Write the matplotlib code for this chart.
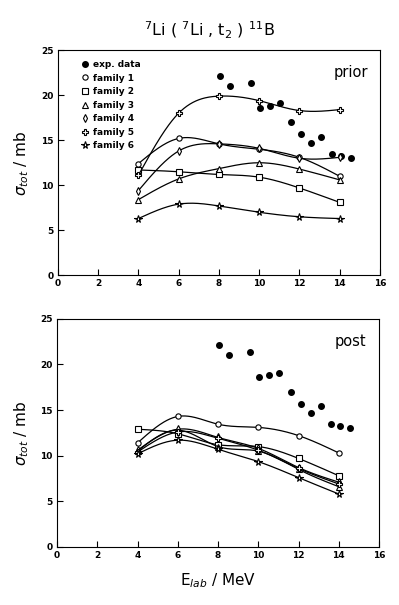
import numpy as np
import matplotlib
matplotlib.use("Agg")
import matplotlib.pyplot as plt
from matplotlib.lines import Line2D

# ---------------- data ----------------
exp_E = [8.05, 8.55, 9.6, 10.05, 10.55, 11.05, 11.6, 12.1, 12.6, 13.1, 13.6, 14.05, 14.55]
exp_sigma = [22.1, 21.0, 21.4, 18.6, 18.8, 19.1, 17.0, 15.7, 14.7, 15.4, 13.5, 13.3, 13.0]

fam_E = [4, 6, 8, 10, 12, 14]
family_labels = ["family 1", "family 2", "family 3", "family 4", "family 5", "family 6"]

prior_vals = {
    "family 1": [12.4, 15.2, 14.6, 14.0, 13.1, 11.0],
    "family 2": [11.7, 11.5, 11.2, 10.9, 9.7, 8.1],
    "family 3": [8.4, 10.7, 11.85, 12.5, 11.8, 10.6],
    "family 4": [9.4, 13.8, 14.6, 14.1, 13.0, 13.1],
    "family 5": [11.1, 18.0, 19.9, 19.4, 18.3, 18.4],
    "family 6": [6.3, 7.9, 7.7, 7.0, 6.5, 6.3],
}
post_vals = {
    "family 1": [11.4, 14.3, 13.45, 13.1, 12.2, 10.3],
    "family 2": [12.9, 12.4, 11.2, 11.0, 9.7, 7.8],
    "family 3": [10.5, 12.8, 11.0, 10.5, 8.5, 6.6],
    "family 4": [10.6, 12.9, 12.0, 10.8, 8.7, 7.1],
    "family 5": [10.4, 12.6, 11.9, 10.6, 8.6, 6.9],
    "family 6": [10.2, 11.7, 10.7, 9.35, 7.6, 5.8],
}
markers = {"family 1": "o", "family 2": "s", "family 3": "^",
           "family 4": "d", "family 5": "P", "family 6": "*"}


def natural_spline(x, y, n=200):
    x = np.asarray(x, float)
    y = np.asarray(y, float)
    m = len(x)
    h = np.diff(x)
    A = np.zeros((m, m))
    r = np.zeros(m)
    A[0, 0] = 1
    A[-1, -1] = 1
    for i in range(1, m - 1):
        A[i, i - 1] = h[i - 1]
        A[i, i] = 2 * (h[i - 1] + h[i])
        A[i, i + 1] = h[i]
        r[i] = 3 * ((y[i + 1] - y[i]) / h[i] - (y[i] - y[i - 1]) / h[i - 1])
    c = np.linalg.solve(A, r)
    xs = np.linspace(x[0], x[-1], n)
    ys = np.empty_like(xs)
    for k, xv in enumerate(xs):
        i = min(np.searchsorted(x, xv, side="right") - 1, m - 2)
        dx = xv - x[i]
        b = (y[i + 1] - y[i]) / h[i] - h[i] * (2 * c[i] + c[i + 1]) / 3
        d = (c[i + 1] - c[i]) / (3 * h[i])
        ys[k] = y[i] + b * dx + c[i] * dx ** 2 + d * dx ** 3
    return xs, ys


plt.rcParams["font.family"] = ["DejaVu Sans"]
fig = plt.figure(figsize=(3.99, 6.05), dpi=100)
ax1 = fig.add_axes([0.145, 0.545, 0.807, 0.372])
ax2 = fig.add_axes([0.143, 0.096, 0.807, 0.377])

for ax, vals, tag in [(ax1, prior_vals, "prior"), (ax2, post_vals, "post")]:
    ax.plot(exp_E, exp_sigma, "o", color="black", ms=4, ls="none")
    for lab in family_labels:
        xs, ys = natural_spline(fam_E, vals[lab])
        ax.plot(xs, ys, "-", color="black", lw=0.9)
        ms = 5.5 if markers[lab] == "*" else 3.8
        ax.plot(fam_E, vals[lab], markers[lab], mfc="white", mec="black",
                mew=0.8, ms=ms, ls="none")
    ax.set_xlim(0, 16)
    ax.set_ylim(0, 25)
    ax.set_xticks(range(0, 17, 2))
    ax.set_yticks(range(0, 26, 5))
    ax.tick_params(direction="in", length=4, width=0.8, labelsize=6.5, pad=3)
    for t in ax.get_xticklabels() + ax.get_yticklabels():
        t.set_fontweight("bold")
    for s in ax.spines.values():
        s.set_linewidth(0.8)
    ax.text(0.91, 0.90, tag, transform=ax.transAxes, ha="center", va="center",
            fontsize=10.5)
    ax.set_ylabel(r"$\sigma_{tot}$ / mb", fontsize=11, labelpad=7)

handles = [Line2D([], [], marker="o", color="black", ls="none", ms=4)]
for lab in family_labels:
    ms = 5.5 if markers[lab] == "*" else 3.8
    handles.append(Line2D([], [], marker=markers[lab], mfc="white", mec="black",
                          mew=0.8, ms=ms, ls="none"))
leg = ax1.legend(handles, ["exp. data"] + family_labels, loc="upper left",
                 bbox_to_anchor=(0.055, 0.98), frameon=False,
                 prop={"size": 6.5, "weight": "bold"},
                 handletextpad=0.3, labelspacing=0.5, handlelength=1.0,
                 borderaxespad=0.2)

ax1.set_title(r"$^{7}$Li ( $^{7}$Li , t$_{2}$ ) $^{11}$B", fontsize=11.5,
              pad=10, x=0.47)
ax2.set_xlabel(r"E$_{lab}$ / MeV", fontsize=11, labelpad=8)

fig.savefig("out.png", dpi=100)
